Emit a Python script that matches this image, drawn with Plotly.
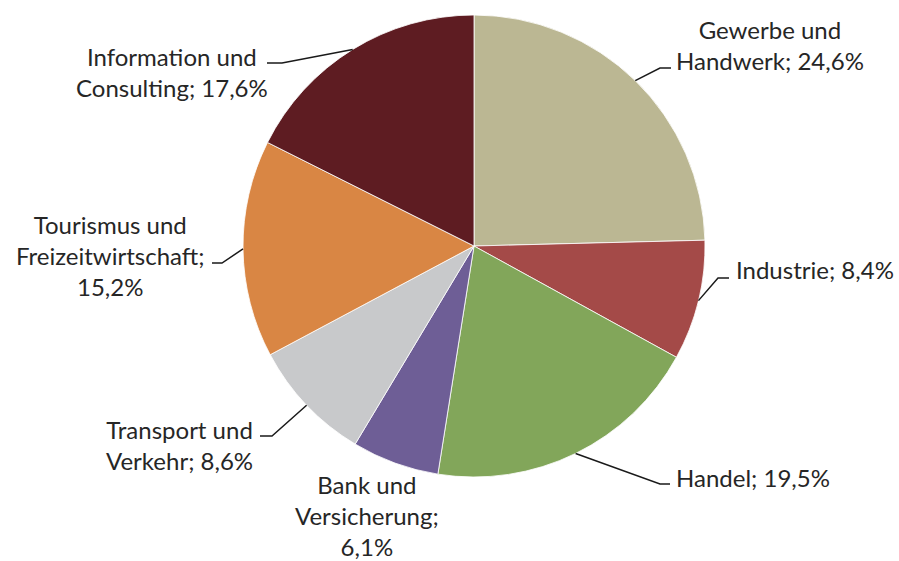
import math
import plotly.graph_objects as go

# ---- data ----
categories = ["Gewerbe und<br>Handwerk", "Industrie", "Handel", "Bank und<br>Versicherung",
              "Transport und<br>Verkehr", "Tourismus und<br>Freizeitwirtschaft", "Information und<br>Consulting"]
values = [24.6, 8.4, 19.5, 6.1, 8.6, 15.2, 17.6]
separators = ["; ", "; ", "; ", ";<br>", "; ", ";<br>", "; "]

# ---- style / layout ----
colors = ["#BBB793", "#A44A48", "#82A65A", "#6E5E96", "#C8C9CB", "#D98644", "#5E1C22"]
W, H = 899, 561
CX, CY, R = 474, 246, 231
label_pos = [(770, 45), (815, 269), (753, 477), (367, 515), (179, 445), (110, 255), (172, 72)]
elbows = [[(660, 68), (671, 68)], [(718, 278), (729, 278)], [(660, 484), (670, 484)], None,
          [(272, 436), (260, 436)], [(222, 263), (212, 263)], [(282, 63), (267, 63)]]
FONT = dict(family="Lato, 'Open Sans', sans-serif", size=24, color="#262626")

fig = go.Figure()
fig.add_trace(go.Pie(
    values=values, labels=[c.replace("<br>", " ") for c in categories],
    sort=False, direction="clockwise", rotation=0,
    marker=dict(colors=colors, line=dict(color="white", width=0.8)),
    textinfo="none", hoverinfo="label+percent", showlegend=False,
    domain=dict(x=[(CX - R) / W, (CX + R) / W], y=[1 - (CY + R) / H, 1 - (CY - R) / H]),
))

total = sum(values)
cum = 0.0
for i, v in enumerate(values):
    mid = (cum + v / 2) / total * 2 * math.pi
    cum += v
    ax = CX + R * math.sin(mid)
    ay = CY - R * math.cos(mid)
    txt = categories[i] + separators[i] + f"{v:.1f}".replace(".", ",") + "%"
    fig.add_annotation(x=label_pos[i][0], y=label_pos[i][1], xref="x", yref="y",
                       text=txt, showarrow=False, align="center",
                       xanchor="center", yanchor="middle", font=FONT)
    if elbows[i]:
        pts = [(ax, ay)] + elbows[i]
        path = "M " + " L ".join(f"{px},{py}" for px, py in pts)
        fig.add_shape(type="path", path=path, xref="x", yref="y",
                      line=dict(color="#1a1a1a", width=1.5))

fig.update_layout(
    width=W, height=H, margin=dict(l=0, r=0, t=0, b=0),
    paper_bgcolor="white", plot_bgcolor="rgba(0,0,0,0)",
    xaxis=dict(range=[0, W], visible=False, fixedrange=True, domain=[0, 1]),
    yaxis=dict(range=[H, 0], visible=False, fixedrange=True, domain=[0, 1]),
)
fig.write_html("out.html", config={"displayModeBar": False},
               post_script="document.body.style.margin='0';document.body.style.padding='0';"
                           "document.body.style.overflow='hidden';")
